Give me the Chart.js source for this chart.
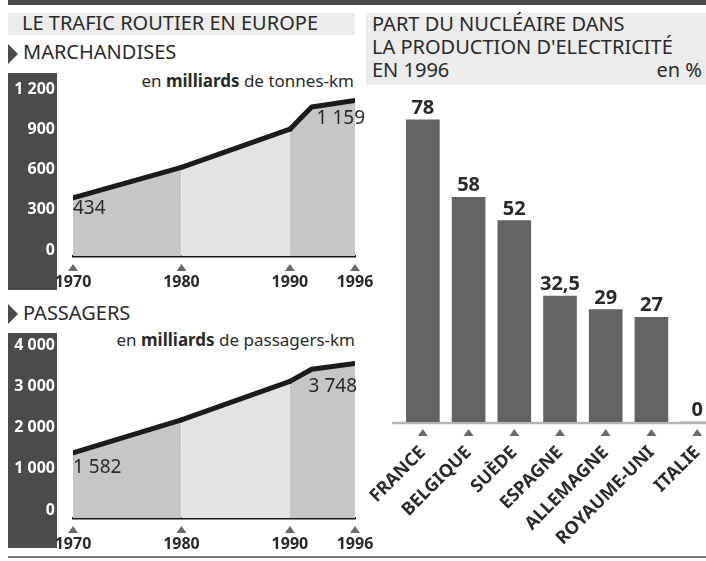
<!DOCTYPE html>
<html>
<head>
<meta charset="utf-8">
<script src="https://cdn.jsdelivr.net/npm/chart.js@4"></script>
<style>
  body { margin: 0; width: 706px; height: 561px; overflow: hidden; position: relative; background: #fff; font-family: "Noto Sans", sans-serif; color: #2a2a2a; }
  .abs { position: absolute; line-height: 1; white-space: nowrap; }
  .box { position: absolute; background: #ececec; }
  .dark { position: absolute; background: #4b4b4d; }
  .tri { position: absolute; width: 0; height: 0; border-top: 10px solid transparent; border-bottom: 10px solid transparent; border-left: 10px solid #4b4b4d; }
  canvas { position: absolute; }
</style>
</head>
<body>
<div class="dark" style="left:8px;top:0;width:698px;height:5px"></div>

<div class="box" style="left:8px;top:13px;width:347px;height:22px"></div>
<div class="abs" style="left:22px;top:13px;font-size:20px">LE TRAFIC ROUTIER EN EUROPE</div>
<div class="tri" style="left:8px;top:44px"></div>
<div class="abs" style="left:23px;top:42px;font-size:20px">MARCHANDISES</div>
<div class="abs" style="right:352px;top:72px;font-size:17px">en <b>milliards</b> de tonnes-km</div>
<div class="dark" style="left:8px;top:73px;width:49px;height:217px"></div>

<div class="tri" style="left:8px;top:304px"></div>
<div class="abs" style="left:23px;top:303px;font-size:20px">PASSAGERS</div>
<div class="abs" style="right:351px;top:331px;font-size:17px">en <b>milliards</b> de passagers-km</div>
<div class="dark" style="left:8px;top:333px;width:49px;height:215px"></div>

<div class="box" style="left:366px;top:13px;width:340px;height:72px"></div>
<div class="abs" style="left:372px;top:14px;font-size:20px">PART DU NUCLÉAIRE DANS</div>
<div class="abs" style="left:372px;top:37px;font-size:20px">LA PRODUCTION D'ELECTRICITÉ</div>
<div class="abs" style="left:372px;top:60px;font-size:20px">EN 1996</div>
<div class="abs" style="right:4px;top:60px;font-size:20px">en %</div>

<div style="position:absolute;left:8px;top:556px;width:698px;height:2px;background:#7a7a7c"></div>

<canvas id="freight-chart" style="left:0;top:60px"></canvas>
<canvas id="passenger-chart" style="left:0;top:318px"></canvas>
<canvas id="nuclear-chart" style="left:360px;top:90px"></canvas>

<script>
const years = [1970, 1980, 1990, 1992, 1996];
const yearTicks = [1970, 1980, 1990, 1996];
const freight = [434, 660, 945, 1110, 1159];
const freightTicks = [0, 300, 600, 900, 1200];
const passengers = [1582, 2380, 3313, 3607, 3748];
const passengerTicks = [0, 1000, 2000, 3000, 4000];

const countries = ["FRANCE", "BELGIQUE", "SUÈDE", "ESPAGNE", "ALLEMAGNE", "ROYAUME-UNI", "ITALIE"];
const nuclear = [78, 58, 52, 32.5, 29, 27, 0];

const FONT = "'Noto Sans', sans-serif";
const fmt = (v) => String(v).replace(".", ",").replace(/\B(?=(\d{3})+(?!\d))/g, " ");

// petits triangles sous l'axe
const tickTriangles = {
  id: "tickTriangles",
  afterDraw(chart, args, opts) {
    const { ctx, chartArea } = chart;
    const xs = chart.scales.x;
    ctx.save();
    ctx.fillStyle = "#6a6a6c";
    xs.ticks.forEach((t, i) => {
      const x = xs.getPixelForTick(i);
      const y = chartArea.bottom + opts.top;
      ctx.beginPath();
      ctx.moveTo(x - 5, y + 7);
      ctx.lineTo(x + 5, y + 7);
      ctx.lineTo(x, y);
      ctx.closePath();
      ctx.fill();
    });
    ctx.restore();
  },
};

// valeurs de début et de fin de courbe
const endLabels = {
  id: "endLabels",
  afterDatasetsDraw(chart, args, opts) {
    const { ctx, data } = chart;
    const pts = chart.getDatasetMeta(0).data;
    const vals = data.datasets[0].data;
    const first = pts[0];
    const last = pts[pts.length - 1];
    ctx.save();
    ctx.font = "19px " + FONT;
    ctx.fillStyle = "#2a2a2a";
    ctx.textBaseline = "middle";
    ctx.textAlign = "left";
    ctx.fillText(fmt(vals[0].y), first.x, first.y + opts.firstDy);
    ctx.textAlign = "right";
    ctx.fillText(fmt(vals[vals.length - 1].y), last.x + opts.lastDx, last.y + opts.lastDy);
    ctx.restore();
  },
};

function traficChart(el, values, ticks, max, labels) {
  return new Chart(el, {
    type: "line",
    data: {
      datasets: [
        {
          data: years.map((y, i) => ({ x: y, y: values[i] })),
          borderColor: "#1b1b1b",
          borderWidth: 5,
          borderCapStyle: "round",
          borderJoinStyle: "round",
          pointRadius: 0,
          tension: 0,
          fill: "origin",
          backgroundColor: "#c6c6c8",
          segment: {
            backgroundColor: (c) => (c.p0.parsed.x === 1980 ? "#e3e3e5" : "#c6c6c8"),
          },
        },
      ],
    },
    options: {
      responsive: false,
      animation: false,
      layout: { padding: { top: 35, right: 25, left: 0, bottom: 0 } },
      scales: {
        x: {
          type: "linear",
          min: 1970,
          max: 1996,
          afterBuildTicks: (s) => { s.ticks = yearTicks.map((v) => ({ value: v })); },
          afterFit: (s) => { s.height = 44; s.paddingLeft = 0; s.paddingRight = 0; },
          grid: { display: false, drawTicks: false },
          border: { display: true, color: "#1b1b1b", width: 2.5 },
          ticks: {
            padding: 17,
            maxRotation: 0,
            color: "#2a2a2a",
            font: { family: FONT, size: 16, weight: "bold" },
            callback: (v) => String(v),
          },
        },
        y: {
          min: 0,
          max: max,
          afterBuildTicks: (s) => { s.ticks = ticks.map((v) => ({ value: v })); },
          afterFit: (s) => { s.width = 73; s.paddingTop = 0; s.paddingBottom = 0; },
          grid: { display: false, drawTicks: false },
          border: { display: false },
          ticks: {
            padding: 18,
            labelOffset: labels.tickOffset,
            color: "#ffffff",
            font: { family: FONT, size: 16, weight: "bold" },
            callback: (v) => fmt(v),
          },
        },
      },
      plugins: {
        legend: { display: false },
        tooltip: { enabled: false },
        tickTriangles: { top: 8 },
        endLabels: labels,
      },
    },
    plugins: [tickTriangles, endLabels],
  });
}

const freightCanvas = document.getElementById("freight-chart");
freightCanvas.width = 380;
freightCanvas.height = 240;
traficChart(freightCanvas, freight, freightTicks, 1200, { tickOffset: -6, firstDy: 11, lastDx: 10, lastDy: 18 });

const passengerCanvas = document.getElementById("passenger-chart");
passengerCanvas.width = 380;
passengerCanvas.height = 244;
traficChart(passengerCanvas, passengers, passengerTicks, 4000, { tickOffset: -8, firstDy: 15, lastDx: 2, lastDy: 23 });

// part du nucléaire
const barLabels = {
  id: "barLabels",
  afterDatasetsDraw(chart) {
    const { ctx, data } = chart;
    ctx.save();
    ctx.font = "bold 20px " + FONT;
    ctx.fillStyle = "#2a2a2a";
    ctx.textAlign = "center";
    ctx.textBaseline = "alphabetic";
    chart.getDatasetMeta(0).data.forEach((bar, i) => {
      ctx.fillText(fmt(data.datasets[0].data[i]), bar.x, bar.y - 6);
    });
    ctx.restore();
  },
  beforeDatasetsDraw(chart) {
    const { ctx, chartArea } = chart;
    ctx.save();
    ctx.strokeStyle = "#b4b4b8";
    ctx.lineWidth = 2.5;
    ctx.beginPath();
    ctx.moveTo(32, chartArea.bottom + 1);
    ctx.lineTo(chart.width, chartArea.bottom + 1);
    ctx.stroke();
    ctx.restore();
  },
};

const nuclearCanvas = document.getElementById("nuclear-chart");
nuclearCanvas.width = 370;
nuclearCanvas.height = 470;
new Chart(nuclearCanvas, {
  type: "bar",
  data: {
    labels: countries,
    datasets: [
      {
        data: nuclear,
        backgroundColor: "#636365",
        borderWidth: 0,
        barThickness: 33,
      },
    ],
  },
  options: {
    responsive: false,
    animation: false,
    layout: { padding: { top: 22, left: 40, right: 10, bottom: 0 } },
    scales: {
      x: {
        afterFit: (s) => { s.height = 138; s.paddingLeft = 0; s.paddingRight = 0; },
        grid: { display: false, drawTicks: false },
        border: { display: false },
        ticks: {
          padding: 20,
          minRotation: 45,
          maxRotation: 45,
          color: "#2a2a2a",
          font: { family: FONT, size: 18, weight: "bold" },
        },
      },
      y: { display: false, min: 0, max: 80 },
    },
    plugins: {
      legend: { display: false },
      tooltip: { enabled: false },
      tickTriangles: { top: 7 },
    },
  },
  plugins: [barLabels, tickTriangles],
});
</script>
</body>
</html>
